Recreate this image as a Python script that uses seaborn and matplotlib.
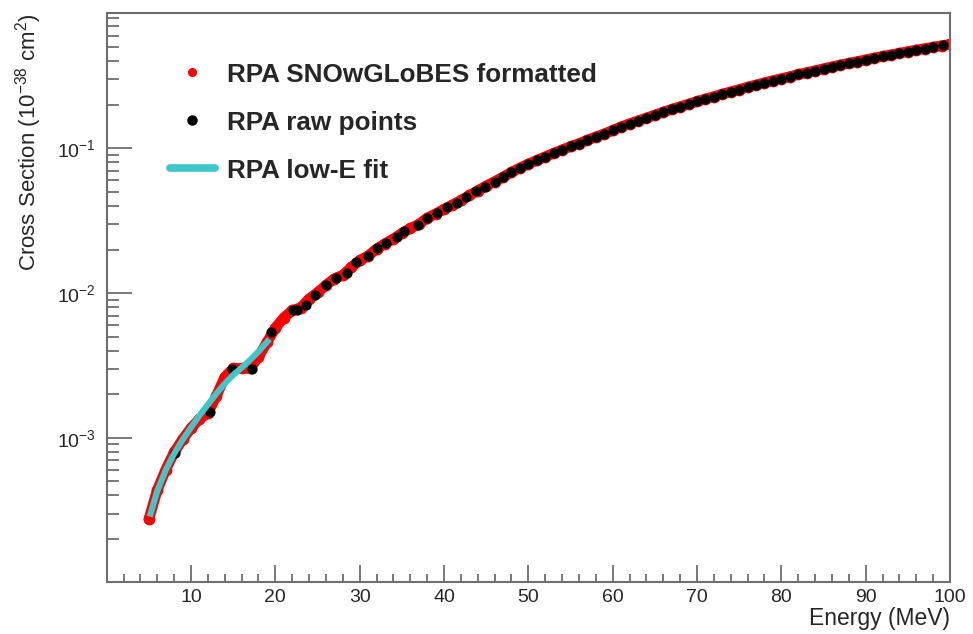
import matplotlib
matplotlib.use("Agg")
import matplotlib.pyplot as plt
from matplotlib.lines import Line2D
import seaborn as sns
import pandas as pd

# ---------------- data ----------------
fmt_energy = list(range(5, 101))
fmt_xsec = [
    2.75e-4, 4.37e-4, 6.03e-4, 7.94e-4, 9.77e-4, 1.17e-3, 1.35e-3, 1.48e-3,
    1.95e-3, 2.63e-3, 3.02e-3, 3.02e-3, 3.02e-3, 3.63e-3, 4.57e-3, 5.75e-3,
    6.76e-3, 7.59e-3, 7.94e-3, 9.12e-3, 1.01e-2, 1.135e-2, 1.26e-2, 1.33e-2,
    1.51e-2, 1.68e-2, 1.81e-2, 2.02e-2, 2.20e-2, 2.37e-2, 2.59e-2, 2.80e-2,
    2.99e-2, 3.30e-2, 3.53e-2, 3.80e-2, 4.07e-2, 4.37e-2, 4.73e-2, 5.11e-2,
    5.50e-2, 5.90e-2, 6.34e-2, 6.84e-2, 7.33e-2, 7.80e-2, 8.26e-2, 8.75e-2,
    9.25e-2, 9.77e-2, 0.103, 0.108, 0.114, 0.120, 0.126, 0.133,
    0.141, 0.148, 0.155, 0.162, 0.170, 0.178, 0.186, 0.194,
    0.202, 0.211, 0.219, 0.228, 0.237, 0.246, 0.255, 0.265,
    0.274, 0.284, 0.294, 0.303, 0.313, 0.324, 0.334, 0.344,
    0.355, 0.366, 0.377, 0.387, 0.398, 0.409, 0.421, 0.432,
    0.443, 0.454, 0.466, 0.478, 0.489, 0.500, 0.512, 0.524,
]

raw_energy = [
    8.05, 12.3, 14.9, 17.2, 19.5, 22.1, 22.6, 23.6, 24.7, 26.0, 27.2, 28.5,
    29.6, 31.0, 32.1, 33.1, 34.4, 35.3, 36.9, 38.0, 39.2, 40.4, 41.5, 42.6,
    43.8, 44.9, 46.0,
    47, 48, 49, 50, 51, 52, 53, 54, 55, 56, 57, 58, 59, 60, 61, 62, 63, 64,
    65, 66, 67, 68, 69, 70, 71, 72, 73, 74, 75, 76, 77, 78, 79, 80, 81, 82,
    83, 84, 85, 86, 87, 88, 89, 90, 91, 92, 93, 94, 95, 96, 97, 98, 99.2,
]
raw_xsec = [
    7.9e-4, 1.52e-3, 3.0e-3, 3.0e-3, 5.4e-3, 7.6e-3, 7.7e-3, 8.3e-3, 9.7e-3,
    1.14e-2, 1.28e-2, 1.375e-2, 1.63e-2, 1.81e-2, 2.05e-2, 2.22e-2, 2.44e-2,
    2.67e-2, 2.97e-2, 3.30e-2, 3.57e-2, 3.93e-2, 4.19e-2, 4.58e-2, 5.04e-2,
    5.45e-2, 5.90e-2,
    6.34e-2, 6.84e-2, 7.33e-2, 7.80e-2, 8.26e-2, 8.75e-2, 9.25e-2, 9.77e-2,
    0.103, 0.108, 0.114, 0.120, 0.126, 0.133, 0.141, 0.148, 0.155, 0.162,
    0.170, 0.178, 0.186, 0.194, 0.202, 0.211, 0.219, 0.228, 0.237, 0.246,
    0.255, 0.265, 0.274, 0.284, 0.294, 0.303, 0.313, 0.324, 0.334, 0.344,
    0.355, 0.366, 0.377, 0.387, 0.398, 0.409, 0.421, 0.432, 0.443, 0.454,
    0.466, 0.478, 0.489, 0.500, 0.514,
]

fit_energy = [5.1, 6, 7, 8, 9, 10, 11, 12, 13, 14, 15, 16, 17, 18, 19.3]
fit_xsec = [2.86e-4, 4.3e-4, 6.0e-4, 7.8e-4, 9.7e-4, 1.18e-3, 1.43e-3,
            1.70e-3, 2.02e-3, 2.37e-3, 2.72e-3, 3.05e-3, 3.45e-3, 3.95e-3,
            4.8e-3]

labels = ["RPA SNOwGLoBES formatted", "RPA raw points", "RPA low-E fit"]
x_ticks = [10, 20, 30, 40, 50, 60, 70, 80, 90, 100]

# ---------------- style ----------------
sns.set_theme(style="ticks")
plt.rcParams["font.family"] = ["Liberation Sans", "DejaVu Sans"]
plt.rcParams["mathtext.fontset"] = "custom"
plt.rcParams["mathtext.rm"] = "Liberation Sans"
plt.rcParams["mathtext.it"] = "Liberation Sans:italic"
plt.rcParams["mathtext.bf"] = "Liberation Sans:bold"

RED = "#ff0000"
CYAN = "#3cc8c8"
AXC = "#6e6e6e"

fmt_df = pd.DataFrame({"E": fmt_energy, "xs": fmt_xsec})
raw_df = pd.DataFrame({"E": raw_energy, "xs": raw_xsec})
fit_df = pd.DataFrame({"E": fit_energy, "xs": fit_xsec})

fig = plt.figure(figsize=(9.73, 6.34), dpi=100)
ax = fig.add_axes([106.7 / 973, 1 - 582 / 634, (950 - 106.7) / 973, (582 - 13.3) / 634])

# dense formatted points -> thick red band + dots
sns.lineplot(data=fmt_df, x="E", y="xs", ax=ax, color=RED, lw=7.6,
             estimator=None, sort=False, solid_capstyle="round",
             solid_joinstyle="round", legend=False)
sns.scatterplot(data=fmt_df, x="E", y="xs", ax=ax, color=RED, s=72,
                linewidth=0, legend=False)
sns.scatterplot(data=raw_df, x="E", y="xs", ax=ax, color="black", s=54,
                linewidth=0, legend=False, zorder=3)
sns.lineplot(data=fit_df, x="E", y="xs", ax=ax, color=CYAN, lw=4.4,
             estimator=None, sort=False, legend=False, zorder=4,
             solid_capstyle="butt")

ax.set_yscale("log")
ax.set_xlim(0, 100)
ax.set_ylim(1.01e-4, 0.857)
ax.set_xticks(x_ticks)
ax.set_xticklabels([str(t) for t in x_ticks])
ax.set_xticks(list(range(2, 100, 2)), minor=True)

for side in ["left", "bottom", "top", "right"]:
    ax.spines[side].set_color(AXC)
    ax.spines[side].set_linewidth(1.5)
    ax.spines[side].set_visible(True)

ax.tick_params(axis="x", which="major", direction="in", length=12.2,
               width=1.3, color=AXC, labelsize=14, pad=5, top=False)
ax.tick_params(axis="x", which="minor", direction="in", length=5.8,
               width=1.3, color=AXC, top=False)
ax.tick_params(axis="y", which="major", direction="in", length=18,
               width=1.3, color=AXC, labelsize=14, pad=8, right=False)
ax.tick_params(axis="y", which="minor", direction="in", length=8.8,
               width=1.3, color=AXC, right=False)
ax.tick_params(axis="y", which="minor", labelleft=False)

ax.set_xlabel("Energy (MeV)", loc="right", fontsize=16.5, labelpad=1)
ax.set_ylabel("Cross Section (10$^{-38}$ cm$^{2}$)", loc="top",
              fontsize=16, labelpad=9)

handles = [
    Line2D([], [], marker="o", ls="", color=RED, markersize=5.5),
    Line2D([], [], marker="o", ls="", color="black", markersize=6.5),
    Line2D([], [], color=CYAN, lw=5.5),
]
ax.legend(handles, labels, loc="upper left",
          bbox_to_anchor=(170 / 973, 1 - 62.5 / 634),
          bbox_transform=fig.transFigure, frameon=False,
          prop={"weight": "bold", "size": 18.8}, handlelength=1.72,
          handletextpad=0.46, labelspacing=0.92, borderpad=0,
          borderaxespad=0)

fig.savefig("out.png", dpi=100)
